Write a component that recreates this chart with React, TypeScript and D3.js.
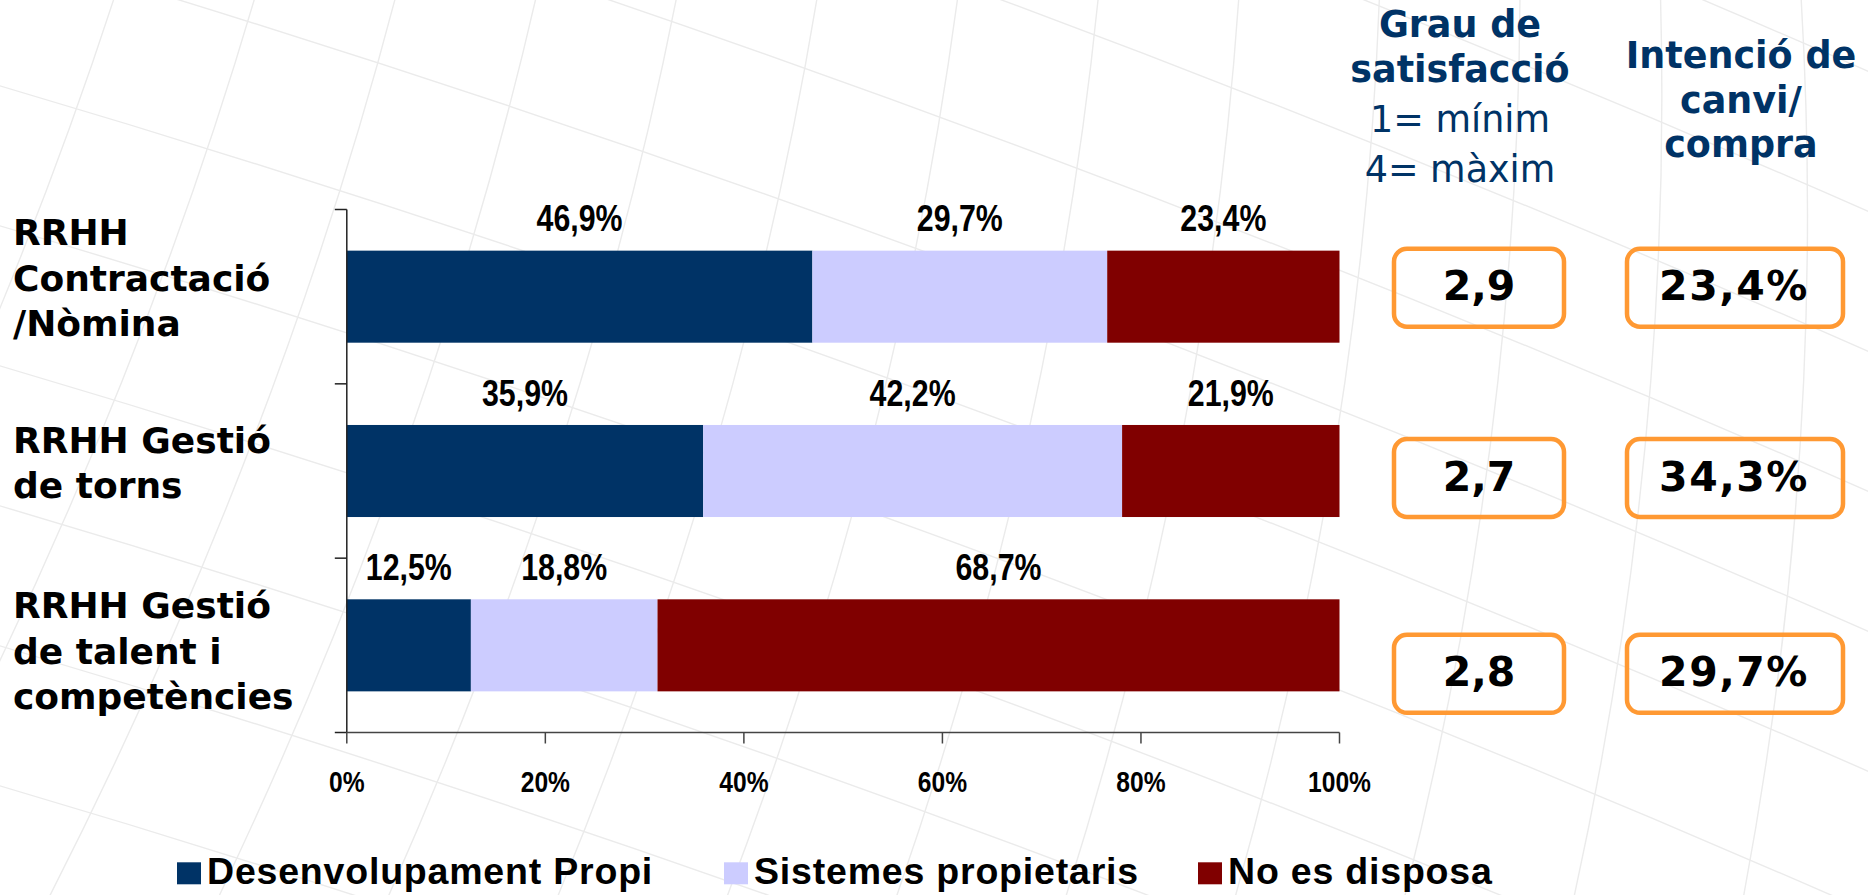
import React from "react";
import * as d3 from "d3";

// ---- data ----
const categories = [
  "RRHH Contractació/Nòmina",
  "RRHH Gestió de torns",
  "RRHH Gestió de talent i competències",
];
const categoryLines = [
  ["RRHH", "Contractació", "/Nòmina"],
  ["RRHH Gestió", "de torns"],
  ["RRHH Gestió", "de talent i", "competències"],
];
const seriesNames = ["Desenvolupament Propi", "Sistemes propietaris", "No es disposa"];
const desenvolupamentPropi = [46.9, 35.9, 12.5];
const sistemesPropietaris = [29.7, 42.2, 18.8];
const noEsDisposa = [23.4, 21.9, 68.7];
const satisfaccio = [2.9, 2.7, 2.8];
const intencioCanvi = [23.4, 34.3, 29.7];
const xTicks = [0, 20, 40, 60, 80, 100];
const headerSatisfaccio = ["Grau de", "satisfacció"];
const headerEscala = ["1= mínim", "4= màxim"];
const headerIntencio = ["Intenció de", "canvi/", "compra"];

// ---- styling / layout ----
const W = 1868;
const H = 895;
const colors = ["#003366", "#CCCCFF", "#800000"];
const navy = "#003366";
const orange = "#FF9933";
const NARROW = 0.82;
const sansBold = "'Liberation Sans', Arial, Helvetica, sans-serif";
const verdana = "'DejaVu Sans', Verdana, sans-serif";
const labelShift = [-6, 4.5, 18.5];
const boxShift = [-9, 7, 28.5];
const legendX = [177, 724, 1198];

const fmtComma = (v: number, d = 1) => v.toFixed(d).replace(".", ",");

// decorative globe-like background lines (not data)
const meridians = d3.range(-4, 14).map((k) => {
  const xb = -300 + k * 170;
  const xt = xb + 420 - k * 30;
  const cx = (xb + xt) / 2 + 60;
  return `M${xb},${H + 20} Q${cx},${H / 2} ${xt},-20`;
});
const parallels = d3.range(-3, 9).map((k) => {
  const y0 = -200 + k * 140;
  return `M-20,${y0} Q${W / 2},${y0 + 280} ${W + 20},${y0 + 700}`;
});

export default function App() {
  const x = d3.scaleLinear().domain([0, 100]).range([346.8, 1339.5]);
  const y = d3
    .scaleBand<string>()
    .domain(categories)
    .range([209.5, 732.5])
    .paddingInner(0.472)
    .paddingOuter(0.236);

  const table = categories.map((c, i) => ({
    cat: c,
    s0: desenvolupamentPropi[i],
    s1: sistemesPropietaris[i],
    s2: noEsDisposa[i],
  }));
  const stack = d3.stack<any>().keys(["s0", "s1", "s2"]);
  const layers = stack(table);

  const [y0, y1] = y.range();
  const step = (y1 - y0) / categories.length;
  const sepTicks = d3.range(categories.length + 1).map((i) => y0 + i * step);
  const bw = y.bandwidth();

  return (
    <svg
      width={W}
      height={H}
      style={{ position: "absolute", left: 0, top: 0, display: "block", background: "#fff" }}
    >
      {/* background decoration */}
      <g fill="none" stroke="#ebebeb" strokeWidth={1.4}>
        {meridians.map((p, i) => (
          <path key={`m${i}`} d={p} />
        ))}
        {parallels.map((p, i) => (
          <path key={`p${i}`} d={p} />
        ))}
      </g>

      {/* bars */}
      {layers.map((layer, si) => (
        <g key={si} fill={colors[si]}>
          {layer.map((d, i) => (
            <rect
              key={i}
              x={x(d[0])}
              y={y(categories[i])}
              width={x(d[1]) - x(d[0])}
              height={bw}
            />
          ))}
        </g>
      ))}

      {/* value labels */}
      {layers.map((layer, si) =>
        layer.map((d, i) => {
          const cx = x((d[0] + d[1]) / 2);
          const by = (y(categories[i]) as number) - 19.3;
          return (
            <text
              key={`${si}-${i}`}
              transform={`translate(${cx},${by}) scale(${NARROW},1)`}
              textAnchor="middle"
              fontFamily={sansBold}
              fontWeight="bold"
              fontSize={37}
              fill="#000"
            >
              {fmtComma(d[1] - d[0])}%
            </text>
          );
        })
      )}

      {/* y axis */}
      <line x1={x(0)} x2={x(0)} y1={y0} y2={y1} stroke="#222" strokeWidth={1.5} />
      {sepTicks.map((t, i) => (
        <line key={i} x1={x(0) - 12} x2={x(0)} y1={t} y2={t} stroke="#222" strokeWidth={1.5} />
      ))}

      {/* x axis */}
      <line x1={x(0)} x2={x(100)} y1={y1} y2={y1} stroke="#444" strokeWidth={1.5} />
      {xTicks.map((t) => (
        <g key={t}>
          <line x1={x(t)} x2={x(t)} y1={y1} y2={y1 + 11} stroke="#444" strokeWidth={1.5} />
          <text
            transform={`translate(${x(t)},${791.7}) scale(${NARROW},1)`}
            textAnchor="middle"
            fontFamily={sansBold}
            fontWeight="bold"
            fontSize={30}
            fill="#000"
          >
            {t}%
          </text>
        </g>
      ))}

      {/* category labels */}
      {categoryLines.map((lines, i) => {
        const mid = (y(categories[i]) as number) + bw / 2 + labelShift[i];
        const first = mid - ((lines.length - 1) / 2) * 45.5;
        return (
          <text key={i} fontFamily={verdana} fontWeight="bold" fontSize={36} fill="#000">
            {lines.map((ln, j) => (
              <tspan key={j} x={13} y={first + j * 45.5}>
                {ln}
              </tspan>
            ))}
          </text>
        );
      })}

      {/* headers */}
      <text fontFamily={verdana} fontWeight="bold" fontSize={36.5} fill={navy} textAnchor="middle">
        {headerSatisfaccio.map((ln, j) => (
          <tspan key={j} x={1460} y={36.7 + j * 45}>
            {ln}
          </tspan>
        ))}
      </text>
      <text fontFamily={verdana} fontSize={36.5} fill={navy} textAnchor="middle">
        {headerEscala.map((ln, j) => (
          <tspan key={j} x={1460} y={131.7 + j * 50}>
            {ln}
          </tspan>
        ))}
      </text>
      <text fontFamily={verdana} fontWeight="bold" fontSize={36.5} fill={navy} textAnchor="middle">
        {headerIntencio.map((ln, j) => (
          <tspan key={j} x={1741} y={68.3 + j * 44.2}>
            {ln}
          </tspan>
        ))}
      </text>

      {/* boxes */}
      {categories.map((c, i) => {
        const cy = (y(c) as number) + bw / 2 + boxShift[i];
        return (
          <g key={c}>
            <rect
              x={1394}
              y={cy - 39}
              width={170}
              height={78}
              rx={13}
              fill="none"
              stroke={orange}
              strokeWidth={4.5}
            />
            <text
              x={1479}
              y={cy + 12.5}
              textAnchor="middle"
              fontFamily={verdana}
              fontWeight="bold"
              fontSize={41}
              fill="#000"
            >
              {fmtComma(satisfaccio[i])}
            </text>
            <rect
              x={1627}
              y={cy - 39}
              width={216}
              height={78}
              rx={13}
              fill="none"
              stroke={orange}
              strokeWidth={4.5}
            />
            <text
              x={1734}
              y={cy + 12.5}
              textAnchor="middle"
              fontFamily={verdana}
              fontWeight="bold"
              fontSize={41}
              letterSpacing={1.5}
              fill="#000"
            >
              {fmtComma(intencioCanvi[i])}%
            </text>
          </g>
        );
      })}

      {/* legend */}
      {seriesNames.map((name, i) => (
        <g key={name}>
          <rect x={legendX[i]} y={862.3} width={24} height={22} fill={colors[i]} />
          <text
            x={legendX[i] + 30}
            y={884.3}
            fontFamily={sansBold}
            fontWeight="bold"
            fontSize={37.5}
            letterSpacing={0.8}
            fill="#000"
          >
            {name}
          </text>
        </g>
      ))}
    </svg>
  );
}
